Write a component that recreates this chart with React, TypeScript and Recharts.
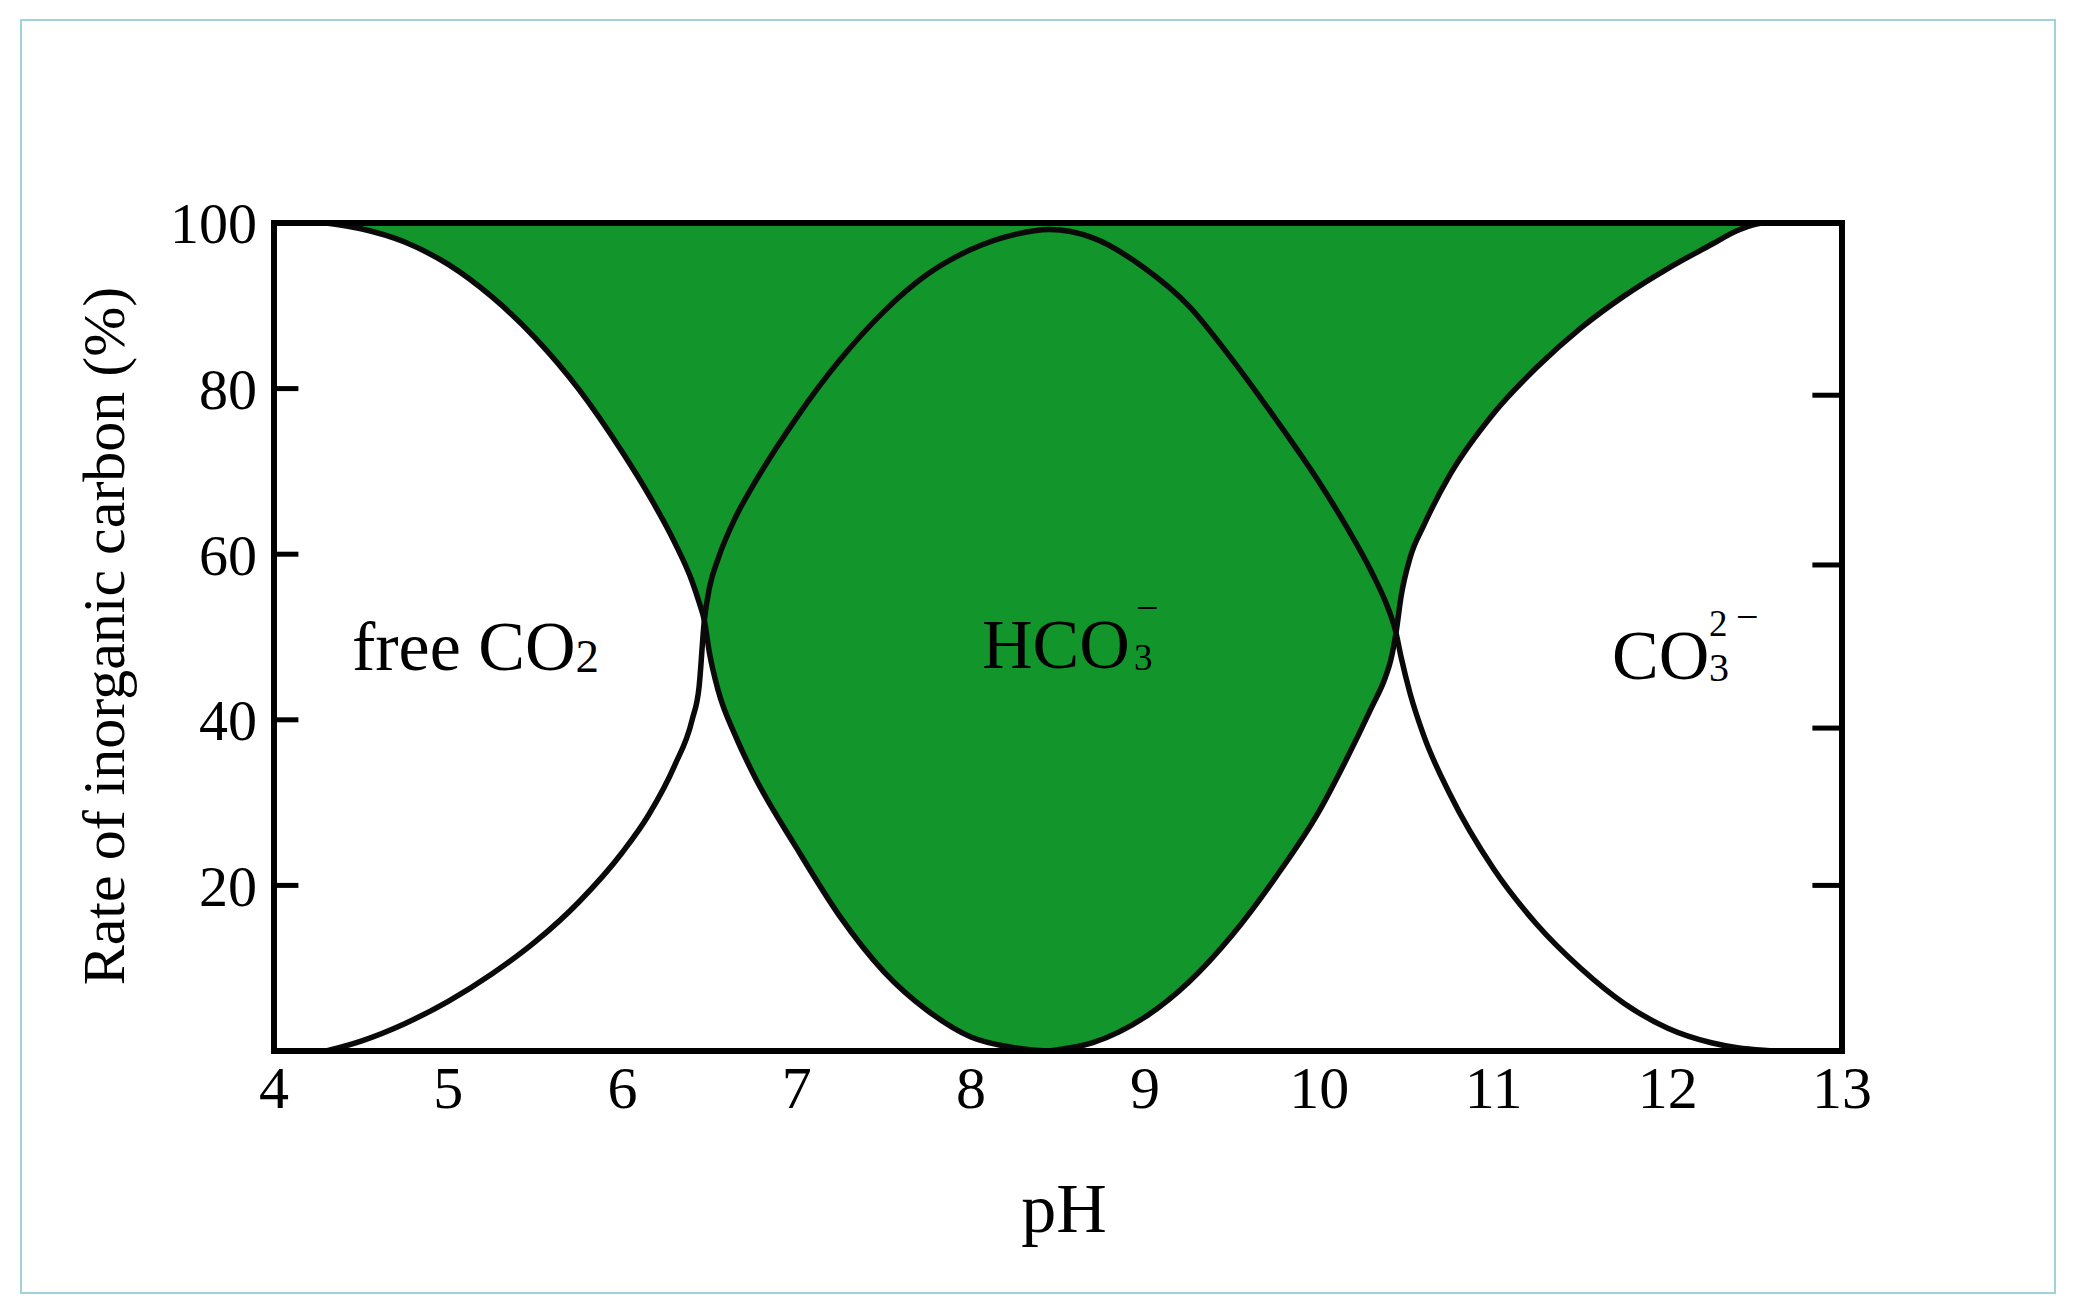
import React from 'react';
import { ComposedChart, Area, Line, XAxis, YAxis, ReferenceLine } from 'recharts';

// pH sample points
const phValues = [4.3, 4.5, 4.75, 5.0, 5.25, 5.5, 5.75, 6.0, 6.15, 6.3, 6.4, 6.44, 6.47, 6.5, 6.55, 6.65, 6.75, 7.0, 7.25, 7.5, 7.75, 8.0, 8.25, 8.45,
  8.7, 9.0, 9.25, 9.5, 9.75, 10.0, 10.15, 10.3, 10.38, 10.41, 10.44, 10.47, 10.52, 10.6, 10.75, 11.0, 11.25, 11.5, 11.75, 12.0, 12.25, 12.4, 12.55, 12.65];

// free CO2 (%)
const co2Values: (number | null)[] = [100, 99.3, 97.7, 95.0, 91.1, 86.1, 79.9, 72.3, 67.2, 61.4, 56.7, 54.2, 52, 48, 43.5, 38, 33.5, 24.5, 16.2, 9.6, 4.9, 1.7, 0.4, 0,
  null, null, null, null, null, null, null, null, null, null, null, null, null, null, null, null, null, null, null, null, null, null, null, null];

// HCO3- (%)
const hco3Values: (number | null)[] = [0, 1.2, 3.3, 6.0, 9.3, 13.2, 18, 24, 28.5, 34.5, 40, 44, 52, 56, 59.5, 64.5, 68.3, 76.5, 83.5, 89.3, 93.8, 96.8, 98.6, 99.2,
  98.2, 94.5, 90, 83.5, 76.3, 68.65, 63.55, 57.85, 54.25, 52.6, 50.5, 47.5, 43.25, 38.05, 31.0, 22.0, 15.25, 10.0, 5.75, 2.75, 1.0, 0.4, 0.1, 0];

// CO3 2- (%)
const co3Values: (number | null)[] = [null, null, null, null, null, null, null, null, null, null, null, null, null, null, null, null, null, null, null, null, null, null, null,
  0, 1.0, 4.1, 8.3, 14, 21, 29, 35, 41.5, 45.2, 47.2, 50.5, 55, 59.5, 63.5, 69.6, 77, 82.6, 87.3, 91.2, 94.5, 97.4, 99.1, 100, 100];

const xTicks = [4, 5, 6, 7, 8, 9, 10, 11, 12, 13];
const yTicksLeft = [20, 40, 60, 80, 100];
const yTickMarksLeft = [20, 40, 60, 80];
const yTickMarksRight = [20, 39, 58.7, 79.2];

const data = phValues.map((ph, i) => {
  const co2 = co2Values[i];
  const co3 = co3Values[i];
  const lower = ph <= 8.45 ? (co2 ?? 100) : (co3 ?? 100);
  return { ph, co2, hco3: hco3Values[i], co3, band: [lower, 100] };
});

const FONT = '"Liberation Serif", "Times New Roman", serif';
const GREEN = '#12962c';
const LINE_W = 5.5;
const AXIS_W = 6;

const LeftTickLabel = (props: any) => {
  const { x, y, payload } = props;
  return (
    <text x={x} y={y} dy="0.35em" textAnchor="end" fontSize={58} fontFamily={FONT} fill="#000">
      {payload.value}
    </text>
  );
};

export default function App() {
  return (
    <div style={{ position: 'absolute', left: 0, top: 0, width: 2078, height: 1313, background: '#fff' }}>
      <div
        style={{
          position: 'absolute',
          left: 20,
          top: 19,
          width: 2036,
          height: 1275,
          border: '2px solid #9fd2da',
          boxSizing: 'border-box',
        }}
      />
      <div style={{ position: 'absolute', left: 0, top: 0 }}>
        <ComposedChart
          width={2078}
          height={1313}
          data={data}
          margin={{ top: 223, right: 236, bottom: 202, left: 194 }}
        >
          <XAxis
            dataKey="ph"
            type="number"
            domain={[4, 13]}
            ticks={xTicks}
            allowDataOverflow
            height={60}
            tickLine={false}
            tickSize={0}
            tickMargin={14}
            axisLine={{ stroke: '#000', strokeWidth: AXIS_W, strokeLinecap: 'square' }}
            tick={{ fill: '#000', fontSize: 60, fontFamily: FONT }}
          />
          <YAxis
            type="number"
            domain={[0, 100]}
            ticks={yTicksLeft}
            width={80}
            tickLine={false}
            tickSize={0}
            tickMargin={17}
            axisLine={{ stroke: '#000', strokeWidth: AXIS_W, strokeLinecap: 'square' }}
            tick={<LeftTickLabel />}
          />
          <Area
            dataKey="band"
            type="monotone"
            stroke="none"
            fill={GREEN}
            fillOpacity={1}
            isAnimationActive={false}
            connectNulls
          />
          <Line dataKey="co2" type="monotone" stroke="#0a0a0a" strokeWidth={LINE_W} dot={false} isAnimationActive={false} />
          <Line dataKey="hco3" type="monotone" stroke="#0a0a0a" strokeWidth={LINE_W} dot={false} isAnimationActive={false} />
          <Line dataKey="co3" type="monotone" stroke="#0a0a0a" strokeWidth={LINE_W} dot={false} isAnimationActive={false} />
          <ReferenceLine y={100} stroke="#000" strokeWidth={AXIS_W} strokeLinecap="square" />
          <ReferenceLine x={13} stroke="#000" strokeWidth={AXIS_W} strokeLinecap="square" />
          {yTickMarksLeft.map((v) => (
            <ReferenceLine
              key={'l' + v}
              segment={[{ x: 4, y: v }, { x: 4.14, y: v }]}
              stroke="#000"
              strokeWidth={5}
            />
          ))}
          {yTickMarksRight.map((v) => (
            <ReferenceLine
              key={'r' + v}
              segment={[{ x: 12.83, y: v }, { x: 13, y: v }]}
              stroke="#000"
              strokeWidth={5}
            />
          ))}
        </ComposedChart>
      </div>
      <svg
        width={2078}
        height={1313}
        style={{ position: 'absolute', left: 0, top: 0, pointerEvents: 'none' }}
        fontFamily={FONT}
        fill="#000"
      >
        {/* axis titles */}
        <text x={1064} y={1232} fontSize={70} textAnchor="middle">pH</text>
        <text transform="translate(124,636) rotate(-90)" x={0} y={0} fontSize={60} textAnchor="middle">
          Rate of inorganic carbon (%)
        </text>
        {/* species labels */}
        <text x={352} y={670} fontSize={70}>
          free CO<tspan fontSize={47} dy={2}>2</tspan>
        </text>
        <text x={982} y={668} fontSize={70}>HCO</text>
        <text x={1134} y={670} fontSize={37}>3</text>
        <text x={1136} y={621} fontSize={40}>−</text>
        <text x={1612} y={679} fontSize={70}>CO</text>
        <text x={1709} y={681} fontSize={40}>3</text>
        <text x={1709} y={636} fontSize={37}>2</text>
        <text x={1736} y={630} fontSize={40}>−</text>
      </svg>
    </div>
  );
}
